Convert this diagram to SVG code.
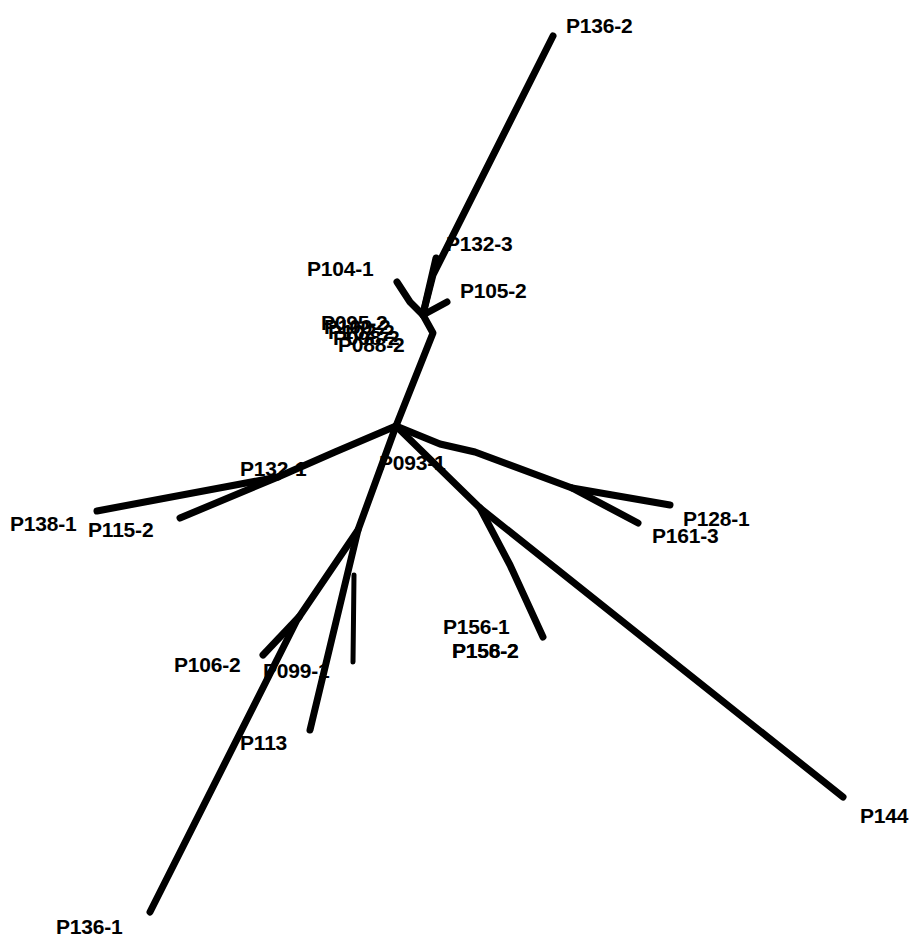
<svg xmlns="http://www.w3.org/2000/svg" width="919" height="942" viewBox="0 0 919 942">
<style>
.e{fill:none;stroke:#000;stroke-width:7;stroke-linecap:round;stroke-linejoin:round}
.t{font-family:"Liberation Sans",Arial,sans-serif;font-weight:bold;font-size:21px;fill:#000;letter-spacing:-0.2px}
</style>
<rect width="919" height="942" fill="#fff"/>
<g id="connectors">
<polyline class="e" points="553,36 433,275 423,314"/>
<polyline class="e" points="436,258 423,314"/>
<polyline class="e" points="397,282 410,302 423,315"/>
<polyline class="e" points="447,302 423,315"/>
<polyline class="e" points="423,315 433,333 396,426"/>
<polyline class="e" points="396,426 335,452 278,477 97,511"/>
<polyline class="e" points="278,477 180,518"/>
<polyline class="e" points="396,426 440,444 475,452 572,488 670,505"/>
<polyline class="e" points="572,488 638,523"/>
<polyline class="e" points="396,426 480,508 843,797"/>
<polyline class="e" points="480,508 510,565 543,637"/>
<polyline class="e" points="396,426 358,530 297,620 150,912"/>
<polyline class="e" points="299,617 263,655"/>
<polyline class="e" points="358,530 310,730"/>
<polyline class="e" style="stroke-width:5" points="354,575 353,662"/>
</g>
<g id="P136-2"><text class="t" x="566" y="33">P136-2</text></g>
<g id="P132-3"><text class="t" x="446" y="251">P132-3</text></g>
<g id="P104-1"><text class="t" x="307" y="276">P104-1</text></g>
<g id="P105-2"><text class="t" x="460" y="298">P105-2</text></g>
<g id="cluster">
<text class="t" x="321" y="330">P095-2</text>
<text class="t" x="324" y="334">P100-2</text>
<text class="t" x="328" y="339">P102-2</text>
<text class="t" x="333" y="345">P098-2</text>
<text class="t" x="338" y="352">P088-2</text>
</g>
<g id="P132-1"><text class="t" x="240" y="476">P132-1</text></g>
<g id="P093-1"><text class="t" x="379" y="470">P093-1</text></g>
<g id="P138-1"><text class="t" x="10" y="531">P138-1</text></g>
<g id="P115-2"><text class="t" x="88" y="537">P115-2</text></g>
<g id="P128-1"><text class="t" x="683" y="526">P128-1</text></g>
<g id="P161-3"><text class="t" x="652" y="543">P161-3</text></g>
<g id="P156-1"><text class="t" x="443" y="634">P156-1</text></g>
<g id="P156-2"><text class="t" x="452" y="658">P156-2</text></g>
<g id="P158-2"><text class="t" x="452" y="658">P158-2</text></g>
<g id="P106-2"><text class="t" x="174" y="672">P106-2</text></g>
<g id="P099-1"><text class="t" x="263" y="678">P099-1</text></g>
<g id="P113"><text class="t" x="240" y="750">P113</text></g>
<g id="P144"><text class="t" x="860" y="823">P144</text></g>
<g id="P136-1"><text class="t" x="56" y="934">P136-1</text></g>
</svg>
